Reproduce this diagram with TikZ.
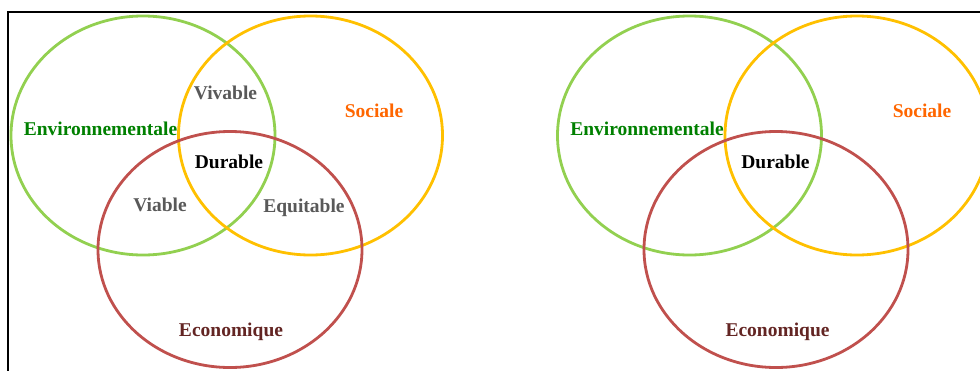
\documentclass[tikz,border=0pt]{standalone}
\usepackage{fontspec}
\setmainfont{Liberation Serif}
\definecolor{cgreen}{HTML}{92D050}
\definecolor{cyellow}{HTML}{FFC000}
\definecolor{cred}{HTML}{C0504D}
\definecolor{tgreen}{HTML}{008000}
\definecolor{torange}{HTML}{FF6600}
\definecolor{tgray}{HTML}{595959}
\definecolor{tbrown}{HTML}{632523}
\begin{document}
\begin{tikzpicture}[x=1pt,y=-1pt,
  ring/.style={line width=2.8pt},
  lbl/.style={anchor=base,inner sep=0pt,font=\fontsize{19.5}{21}\selectfont\bfseries}]
\useasboundingbox (0,0) rectangle (980,370);
\clip (0,0) rectangle (980,370);
\draw[line width=2pt,black] (8,12) rectangle (1000,390);
% left diagram
\draw[ring,cgreen] (143,135.5) ellipse [x radius=132, y radius=119.5];
\draw[ring,cyellow] (310.5,135.5) ellipse [x radius=132, y radius=119.5];
\draw[ring,cred] (230,249.5) ellipse [x radius=132, y radius=118];
\node[lbl,tgray] (viv) at (225.5,99.3) {Vivable};
\node[lbl,tgreen] (env) at (100.5,135) {Environnementale};
\node[lbl,torange] (soc) at (374,117.7) {Sociale};
\node[lbl,black] (dur) at (229,168.3) {Durable};
\node[lbl,tgray] (via) at (160,211.7) {Viable};
\node[lbl,tgray] (equ) at (304,212) {Equitable};
\node[lbl,tbrown] (eco) at (231,336) {Economique};
% right diagram
\draw[ring,cgreen] (689.5,135.5) ellipse [x radius=132, y radius=119.5];
\draw[ring,cyellow] (857,135.5) ellipse [x radius=132, y radius=119.5];
\draw[ring,cred] (776,249.5) ellipse [x radius=132, y radius=118];
\node[lbl,tgreen] (env2) at (647,135) {Environnementale};
\node[lbl,torange] (soc2) at (922,117.7) {Sociale};
\node[lbl,black] (dur2) at (775.5,168.3) {Durable};
\node[lbl,tbrown] (eco2) at (777.5,336) {Economique};
\end{tikzpicture}
\end{document}
